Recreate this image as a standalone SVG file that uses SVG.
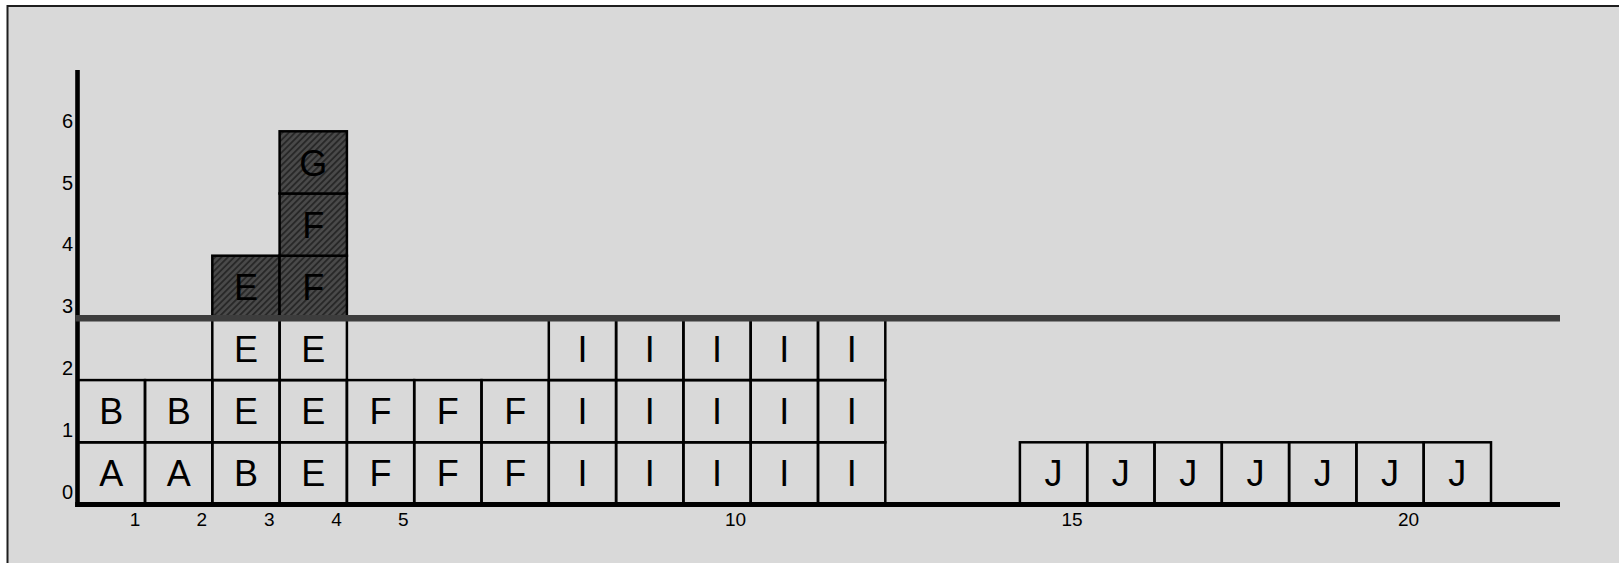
<svg xmlns="http://www.w3.org/2000/svg" width="1619" height="563" viewBox="0 0 1619 563">
<defs>
<pattern id="hatch" patternUnits="userSpaceOnUse" width="4.5" height="4.5" patternTransform="rotate(45)">
<rect width="4.5" height="4.5" fill="#4a4a4a"/>
<line x1="1" y1="0" x2="1" y2="4.5" stroke="#262626" stroke-width="1.8"/>
</pattern>
<style>
.c rect{fill:none;stroke:#000;stroke-width:2.5}
.s rect{fill:url(#hatch);stroke:#000;stroke-width:2.5}
.c text,.s text{font-family:"Liberation Sans",Arial,sans-serif;font-size:36px;fill:#000;text-anchor:middle}
.yl{font-family:"Liberation Sans",Arial,sans-serif;font-size:20px;fill:#000;text-anchor:middle}
.xl{font-family:"Liberation Sans",Arial,sans-serif;font-size:19px;fill:#000;text-anchor:middle}
</style>
</defs>
<rect width="1619" height="563" fill="#fff"/>
<rect x="7.5" y="6" width="1700" height="700" fill="#d9d9d9" stroke="#1e1e1e" stroke-width="2"/>

<g id="cells">
<g id="c0r0" class="c"><rect x="77.7" y="442.3" width="67.3" height="62.2"/><text x="111.35" y="486">A</text></g>
<g id="c0r1" class="c"><rect x="77.7" y="380.1" width="67.3" height="62.2"/><text x="111.35" y="424">B</text></g>
<g id="c1r0" class="c"><rect x="145" y="442.3" width="67.3" height="62.2"/><text x="178.65" y="486">A</text></g>
<g id="c1r1" class="c"><rect x="145" y="380.1" width="67.3" height="62.2"/><text x="178.65" y="424">B</text></g>
<g id="c2r0" class="c"><rect x="212.3" y="442.3" width="67.3" height="62.2"/><text x="245.95" y="486">B</text></g>
<g id="c2r1" class="c"><rect x="212.3" y="380.1" width="67.3" height="62.2"/><text x="245.95" y="424">E</text></g>
<g id="c2r2" class="c"><rect x="212.3" y="317.9" width="67.3" height="62.2"/><text x="245.95" y="362">E</text></g>
<g id="c3r0" class="c"><rect x="279.6" y="442.3" width="67.3" height="62.2"/><text x="313.25" y="486">E</text></g>
<g id="c3r1" class="c"><rect x="279.6" y="380.1" width="67.3" height="62.2"/><text x="313.25" y="424">E</text></g>
<g id="c3r2" class="c"><rect x="279.6" y="317.9" width="67.3" height="62.2"/><text x="313.25" y="362">E</text></g>
<g id="c4r0" class="c"><rect x="346.9" y="442.3" width="67.3" height="62.2"/><text x="380.55" y="486">F</text></g>
<g id="c4r1" class="c"><rect x="346.9" y="380.1" width="67.3" height="62.2"/><text x="380.55" y="424">F</text></g>
<g id="c5r0" class="c"><rect x="414.2" y="442.3" width="67.3" height="62.2"/><text x="447.85" y="486">F</text></g>
<g id="c5r1" class="c"><rect x="414.2" y="380.1" width="67.3" height="62.2"/><text x="447.85" y="424">F</text></g>
<g id="c6r0" class="c"><rect x="481.5" y="442.3" width="67.3" height="62.2"/><text x="515.15" y="486">F</text></g>
<g id="c6r1" class="c"><rect x="481.5" y="380.1" width="67.3" height="62.2"/><text x="515.15" y="424">F</text></g>

<g id="c7r0" class="c"><rect x="548.8" y="442.3" width="67.3" height="62.2"/><text x="582.45" y="486">I</text></g>
<g id="c7r1" class="c"><rect x="548.8" y="380.1" width="67.3" height="62.2"/><text x="582.45" y="424">I</text></g>
<g id="c7r2" class="c"><rect x="548.8" y="317.9" width="67.3" height="62.2"/><text x="582.45" y="362">I</text></g>
<g id="c8r0" class="c"><rect x="616.1" y="442.3" width="67.3" height="62.2"/><text x="649.75" y="486">I</text></g>
<g id="c8r1" class="c"><rect x="616.1" y="380.1" width="67.3" height="62.2"/><text x="649.75" y="424">I</text></g>
<g id="c8r2" class="c"><rect x="616.1" y="317.9" width="67.3" height="62.2"/><text x="649.75" y="362">I</text></g>
<g id="c9r0" class="c"><rect x="683.4" y="442.3" width="67.3" height="62.2"/><text x="717.05" y="486">I</text></g>
<g id="c9r1" class="c"><rect x="683.4" y="380.1" width="67.3" height="62.2"/><text x="717.05" y="424">I</text></g>
<g id="c9r2" class="c"><rect x="683.4" y="317.9" width="67.3" height="62.2"/><text x="717.05" y="362">I</text></g>
<g id="c10r0" class="c"><rect x="750.7" y="442.3" width="67.3" height="62.2"/><text x="784.35" y="486">I</text></g>
<g id="c10r1" class="c"><rect x="750.7" y="380.1" width="67.3" height="62.2"/><text x="784.35" y="424">I</text></g>
<g id="c10r2" class="c"><rect x="750.7" y="317.9" width="67.3" height="62.2"/><text x="784.35" y="362">I</text></g>
<g id="c11r0" class="c"><rect x="818" y="442.3" width="67.3" height="62.2"/><text x="851.65" y="486">I</text></g>
<g id="c11r1" class="c"><rect x="818" y="380.1" width="67.3" height="62.2"/><text x="851.65" y="424">I</text></g>
<g id="c11r2" class="c"><rect x="818" y="317.9" width="67.3" height="62.2"/><text x="851.65" y="362">I</text></g>

<g id="c14r0" class="c"><rect x="1019.9" y="442.3" width="67.3" height="62.2"/><text x="1053.55" y="486">J</text></g>
<g id="c15r0" class="c"><rect x="1087.2" y="442.3" width="67.3" height="62.2"/><text x="1120.85" y="486">J</text></g>
<g id="c16r0" class="c"><rect x="1154.5" y="442.3" width="67.3" height="62.2"/><text x="1188.15" y="486">J</text></g>
<g id="c17r0" class="c"><rect x="1221.8" y="442.3" width="67.3" height="62.2"/><text x="1255.45" y="486">J</text></g>
<g id="c18r0" class="c"><rect x="1289.1" y="442.3" width="67.3" height="62.2"/><text x="1322.75" y="486">J</text></g>
<g id="c19r0" class="c"><rect x="1356.4" y="442.3" width="67.3" height="62.2"/><text x="1390.05" y="486">J</text></g>
<g id="c20r0" class="c"><rect x="1423.7" y="442.3" width="67.3" height="62.2"/><text x="1457.35" y="486">J</text></g>

<g id="s2r3" class="s"><rect x="212.3" y="255.7" width="67.3" height="62.2"/><text x="245.95" y="300">E</text></g>
<g id="s3r3" class="s"><rect x="279.6" y="255.7" width="67.3" height="62.2"/><text x="313.25" y="300">F</text></g>
<g id="s3r4" class="s"><rect x="279.6" y="193.5" width="67.3" height="62.2"/><text x="313.25" y="238">F</text></g>
<g id="s3r5" class="s"><rect x="279.6" y="131.3" width="67.3" height="62.2"/><text x="313.25" y="176">G</text></g>
</g>

<g id="axes">
<line x1="77.5" y1="70" x2="77.5" y2="507" stroke="#000" stroke-width="4.6"/>
<line x1="75.2" y1="504.5" x2="1560" y2="504.5" stroke="#000" stroke-width="4.8"/>
<line x1="75.2" y1="318.3" x2="1560" y2="318.3" stroke="#3d3d3d" stroke-width="6.5"/>
</g>

<g id="ylabels">
<text class="yl" x="67.5" y="498.5">0</text>
<text class="yl" x="67.5" y="436.7">1</text>
<text class="yl" x="67.5" y="374.9">2</text>
<text class="yl" x="67.5" y="313.1">3</text>
<text class="yl" x="67.5" y="251.3">4</text>
<text class="yl" x="67.5" y="189.5">5</text>
<text class="yl" x="67.5" y="127.5">6</text>
</g>
<g id="xlabels">
<text class="xl" x="135" y="525.5">1</text>
<text class="xl" x="201.8" y="525.5">2</text>
<text class="xl" x="269.2" y="525.5">3</text>
<text class="xl" x="336.6" y="525.5">4</text>
<text class="xl" x="403.4" y="525.5">5</text>
<text class="xl" x="735.5" y="525.5">10</text>
<text class="xl" x="1072" y="525.5">15</text>
<text class="xl" x="1408.6" y="525.5">20</text>
</g>
</svg>
